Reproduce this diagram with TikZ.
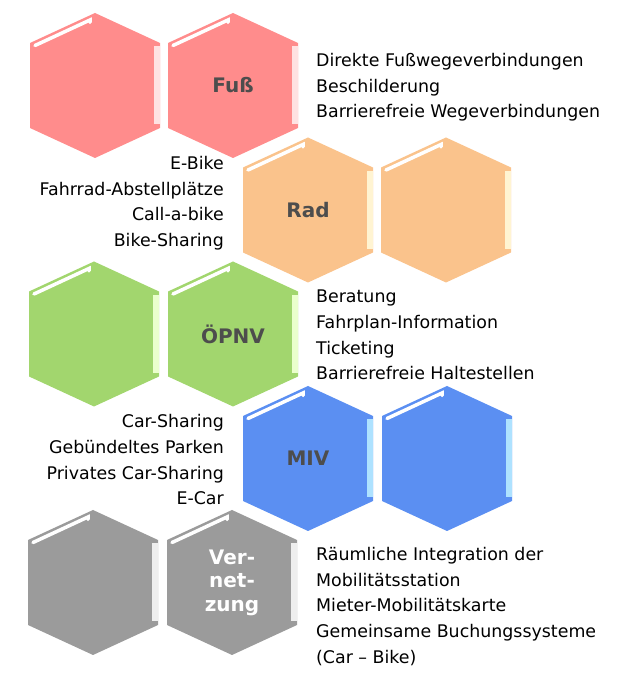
\documentclass[tikz,border=0pt]{standalone}
\usepackage{fontspec}
\setmainfont{DejaVu Sans}
\usepackage{tikz}
\usepackage{xcolor}

\definecolor{fussred}{HTML}{FF8C8C}
\definecolor{fussstrip}{HTML}{FFE2E2}
\definecolor{radorange}{HTML}{FAC38C}
\definecolor{radstrip}{HTML}{FFF4D2}
\definecolor{oepnvgreen}{HTML}{A2D66E}
\definecolor{oepnvstrip}{HTML}{EAFFCC}
\definecolor{mivblue}{HTML}{5B8FF2}
\definecolor{mivstrip}{HTML}{AEE2FF}
\definecolor{netzgray}{HTML}{9B9B9B}
\definecolor{netzstrip}{HTML}{EEEEEE}
\definecolor{labelgray}{HTML}{4D4D4D}

% hexagon with light right edge and highlight: name, centre, fill, strip
\newcommand{\hexcell}[4]{%
  \begin{scope}[shift={#2}]
    \fill[#3] (0,72.5) -- (65,42.5) -- (65,-42.5) -- (0,-72.5) -- (-65,-42.5) -- (-65,42.5) -- cycle;
    \fill[#4] (59,-39) rectangle (65,39);
    \draw[white, line width=3.5pt, line cap=round] (-60,40) -- (-5,65.5) -- (-5,63);
    \coordinate (#1) at (0,0);
  \end{scope}}

\tikzset{
  hexlabel/.style={font=\fontsize{20}{23.5}\selectfont\bfseries, text=labelgray, align=center, inner sep=0pt},
  itemlist/.style={font=\fontsize{17.4}{25.7}\selectfont, inner sep=0pt}
}

\begin{document}
\begin{tikzpicture}[x=1pt, y=1pt]
		\useasboundingbox (0,0) rectangle (634,673);
		% row 1
		\hexcell{fussA}{(95,587.5)}{fussred}{fussstrip}
		\hexcell{fussB}{(233,587.5)}{fussred}{fussstrip}
		\node (fuss) [hexlabel] at (fussB) {Fuß};
		\node (fussText) [itemlist, anchor=base west, align=left] at (316,555) {Direkte Fußwegeverbindungen\\Beschilderung\\Barrierefreie Wegeverbindungen};
		% row 2
		\hexcell{radA}{(308,463)}{radorange}{radstrip}
		\hexcell{radB}{(446,463)}{radorange}{radstrip}
		\node (rad) [hexlabel] at (radA) {Rad};
		\node (radText) [itemlist, anchor=base east, align=right] at (224,426.3) {E-Bike\\Fahrrad-Abstellplätze\\Call-a-bike\\Bike-Sharing};
		% row 3
		\hexcell{oepnvA}{(94,339)}{oepnvgreen}{oepnvstrip}
		\hexcell{oepnvB}{(233,339)}{oepnvgreen}{oepnvstrip}
		\node (oepnv) [hexlabel] at (oepnvB) {ÖPNV};
		\node (oepnvText) [itemlist, anchor=base west, align=left] at (316,293) {Beratung\\Fahrplan-Information\\Ticketing\\Barrierefreie Haltestellen};
		% row 4
		\hexcell{mivA}{(308,214.5)}{mivblue}{mivstrip}
		\hexcell{mivB}{(447,214.5)}{mivblue}{mivstrip}
		\node (miv) [hexlabel] at (mivA) {MIV};
		\node (mivText) [itemlist, anchor=base east, align=right] at (224,168) {Car-Sharing\\Gebündeltes Parken\\Privates Car-Sharing\\E-Car};
		% row 5
		\hexcell{netzA}{(93,90.5)}{netzgray}{netzstrip}
		\hexcell{netzB}{(232,90.5)}{netzgray}{netzstrip}
		\node (netz) [hexlabel, text=white] at (netzB) {Ver-\\net-\\zung};
		\node (netzText) [itemlist, anchor=base west, align=left] at (316,9.7) {Räumliche Integration der\\Mobilitätsstation\\Mieter-Mobilitätskarte\\Gemeinsame Buchungssysteme\\(Car – Bike)};
		\end{tikzpicture}
\end{document}
